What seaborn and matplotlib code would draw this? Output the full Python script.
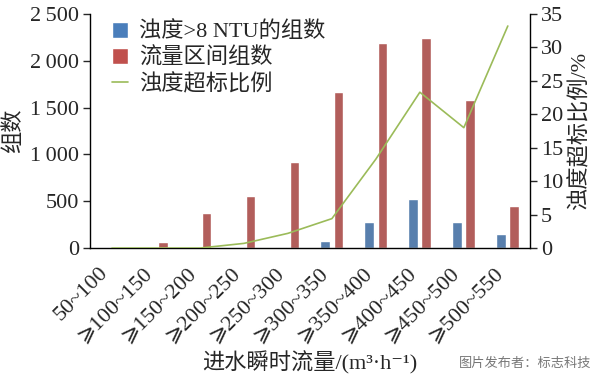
import numpy as np
import pandas as pd
import matplotlib
matplotlib.use("Agg")
import matplotlib.pyplot as plt
import matplotlib.transforms as mtransforms
import seaborn as sns
from matplotlib.patches import Patch
from matplotlib.lines import Line2D

# 数据
categories = ["50~100", "⩾100~150", "⩾150~200", "⩾200~250", "⩾250~300",
              "⩾300~350", "⩾350~400", "⩾400~450", "⩾450~500", "⩾500~550"]
turbid_counts = [2, 0, 0, 2, 15, 75, 281, 523, 281, 146]
flow_counts = [10, 65, 372, 555, 915, 1662, 2195, 2248, 1580, 450]
exceed_ratio = [0, 0, 0, 0.7, 2.2, 4.4, 13.3, 23.3, 18.0, 33.2]

left_ticks = [0, 500, 1000, 1500, 2000, 2500]
left_labels = ["0", "500", "1\u2009000", "1\u2009500", "2\u2009000", "2\u2009500"]
right_ticks = [0, 5, 10, 15, 20, 25, 30, 35]

s1 = "浊度>8 NTU的组数"
s2 = "流量区间组数"
s3 = "浊度超标比例"

df = pd.DataFrame({
    "cat": categories * 2,
    "n": turbid_counts + flow_counts,
    "series": [s1] * len(categories) + [s2] * len(categories),
})

sns.set_style("ticks")
fam = ["Liberation Serif", "Noto Sans CJK SC", "DejaVu Sans"]
plt.rcParams["font.family"] = fam
plt.rcParams["font.size"] = 16

fig = plt.figure(figsize=(6, 3.77), dpi=100)
ax = fig.add_axes([0.15, 0.342, 0.733, 0.621])

sns.barplot(data=df, x="cat", y="n", hue="series", order=categories,
            hue_order=[s1, s2], palette=["#4a7ebb", "#c0504d"],
            width=0.6, gap=0.25, ax=ax, legend=False)

ax2 = ax.twinx()
sns.lineplot(x=np.arange(len(categories)), y=exceed_ratio, color="#9bbb59",
             linewidth=1.2, ax=ax2)

ax.set_xlim(-0.5, len(categories) - 0.5)
ax.set_ylim(0, 2500)
ax2.set_ylim(0, 35)
ax.set_yticks(left_ticks)
ax.set_yticklabels(left_labels)
ax2.set_yticks(right_ticks)

ax.set_xticks(np.arange(len(categories)))
ax.set_xticklabels(categories, rotation=45, ha="right", va="center",
                   rotation_mode="anchor")
ax.tick_params(axis="x", length=0, pad=14, labelsize=16)
ax.tick_params(axis="y", length=5, width=1, labelsize=16, pad=3)
ax2.tick_params(axis="y", length=5, width=1, labelsize=16, pad=3)

# 标签整体略向左下移
shift = mtransforms.ScaledTranslation(-5 / 72, -2 / 72, fig.dpi_scale_trans)
for lab in ax.get_xticklabels():
    lab.set_transform(lab.get_transform() + shift)

for a in (ax, ax2):
    a.spines["top"].set_visible(False)
    for s in ("left", "right", "bottom"):
        a.spines[s].set_linewidth(1)
        a.spines[s].set_color("black")
ax.spines["right"].set_visible(False)
ax2.spines["left"].set_visible(False)
ax2.spines["bottom"].set_visible(False)

ax.set_xlabel("进水瞬时流量/(m³·h⁻¹)", fontsize=16, labelpad=4)
ax.set_ylabel("组数", fontsize=16, labelpad=4)
ax2.set_ylabel("浊度超标比例/%", fontsize=16, labelpad=4)

handles = [Patch(facecolor="#4a7ebb"), Patch(facecolor="#c0504d"),
           Line2D([], [], color="#9bbb59", linewidth=1.2)]
ax2.legend(handles, [s1, s2, s3], loc="upper left", bbox_to_anchor=(0.03, 1.005),
           frameon=False, fontsize=16, handlelength=0.7, handleheight=0.7,
           handletextpad=0.5, labelspacing=0.22, borderaxespad=0)

fig.text(0.985, 0.035, "图片发布者：标志科技", ha="right", va="center",
         fontsize=9.5, color="#777777", family=["Noto Sans CJK SC", "DejaVu Sans"])

fig.savefig("out.png", dpi=100)
